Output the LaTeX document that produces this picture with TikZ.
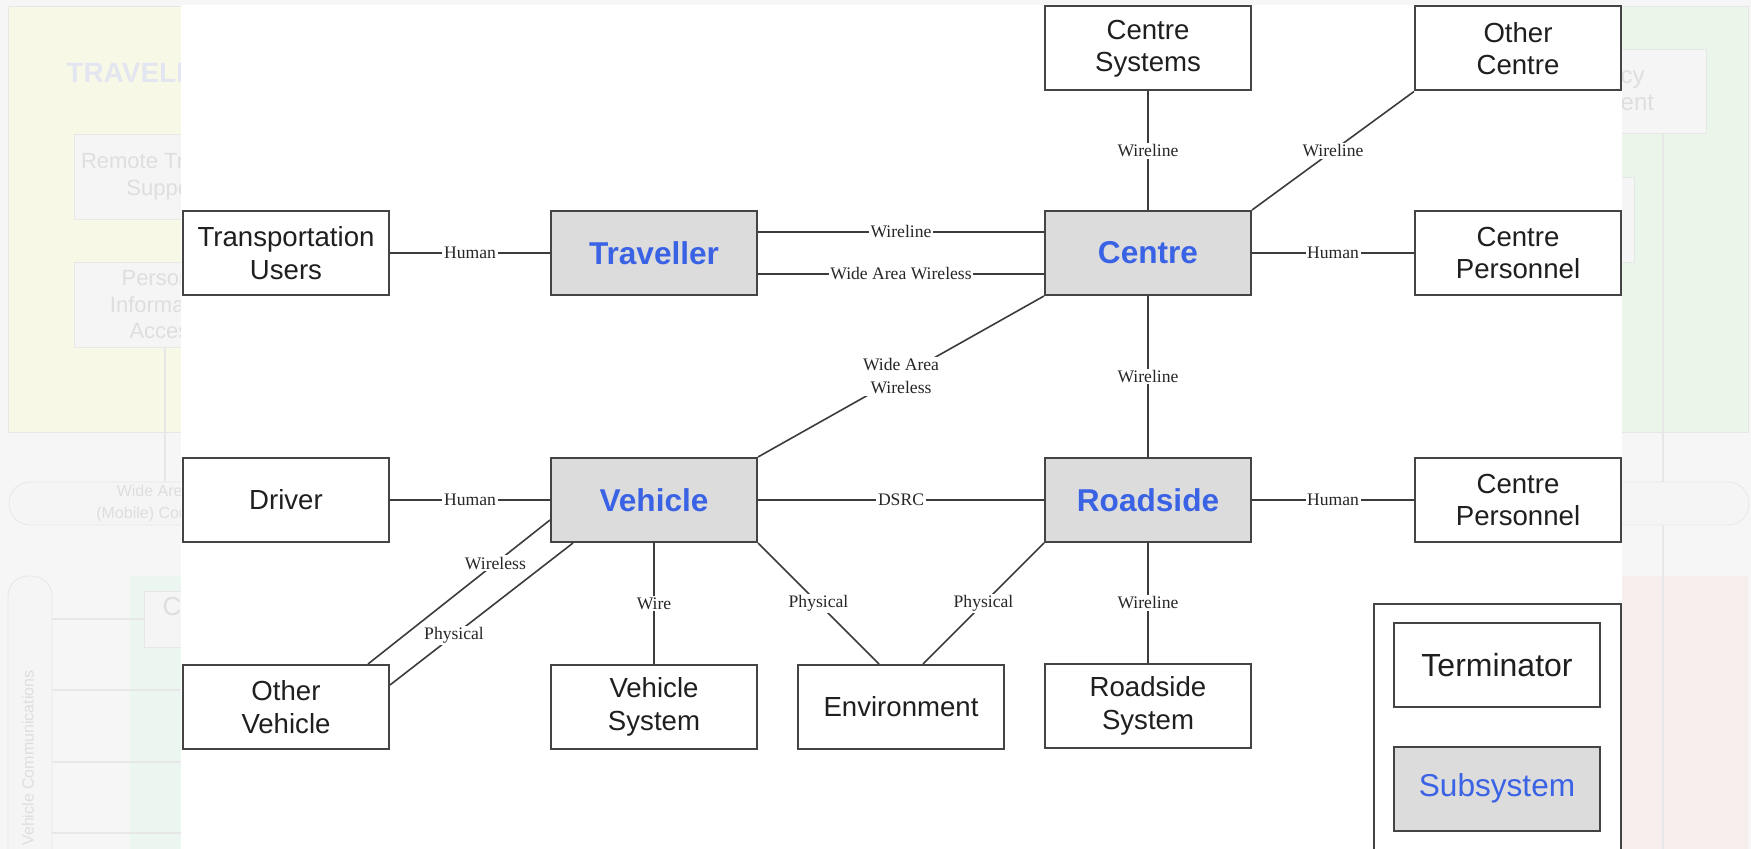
\documentclass[tikz,border=0pt]{standalone}
\usepackage{fontspec}
\setmainfont{Liberation Serif}
\newfontfamily\arial{Liberation Sans}

\definecolor{pagebg}{RGB}{246,246,246}
\definecolor{travyellow}{RGB}{248,248,231}
\definecolor{centgreen}{RGB}{234,246,234}
\definecolor{fieldpink}{RGB}{246,237,237}
\definecolor{vehmint}{RGB}{235,246,240}
\definecolor{ghostfill}{RGB}{245,245,245}
\definecolor{ghostline}{RGB}{231,231,231}
\definecolor{ghosttext}{RGB}{222,222,222}
\definecolor{ghosthead}{RGB}{227,230,240}
\definecolor{boxline}{RGB}{68,68,68}
\definecolor{linkgray}{RGB}{60,60,60}
\definecolor{subfill}{RGB}{220,220,220}
\definecolor{subblue}{RGB}{58,98,228}

\tikzset{
	ghostbox/.style={draw=ghostline, fill=ghostfill, text=ghosttext, align=center, inner sep=0pt},
	term/.style={draw=boxline, line width=1pt, fill=white, text=black!88, align=center, inner sep=0pt,
		minimum width=103pt, minimum height=42pt, font=\arial\fontsize{13.8}{16.2}\selectfont},
	subsys/.style={term, fill=subfill, text=subblue, font=\arial\bfseries\fontsize{15.8}{18}\selectfont},
	link/.style={draw=linkgray, line width=0.8pt},
	lbl/.style={fill=white, inner sep=0.8pt, text=black!85, font=\fontsize{8.8}{11.5}\selectfont}
}

\begin{document}
\begin{tikzpicture}[x=0.5pt, y=-0.5pt]
	% faded architecture behind the panel
	\fill[pagebg] (0,0) rectangle (1751,849);
	\useasboundingbox (0,0) rectangle (1751,849);
	\filldraw[fill=travyellow, draw=ghostline] (8,6) rectangle (600,432);
	\filldraw[fill=centgreen, draw=ghostline] (1300,6) rectangle (1748,432);
	\fill[vehmint] (130,576) rectangle (600,849);
	\fill[fieldpink] (1300,576) rectangle (1748,849);
	\node[anchor=base west, inner sep=0pt, text=ghosthead, font=\arial\bfseries\fontsize{14}{16}\selectfont] (travhead) at (66,83) {TRAVELLERS};
	\node[ghostbox, minimum width=91pt, minimum height=42.5pt, font=\arial\fontsize{11}{13.3}\selectfont] (rts) at (165,176.5) {Remote Traveller\\Support};
	\node[ghostbox, minimum width=91pt, minimum height=42.5pt, font=\arial\fontsize{11}{13.3}\selectfont] (pia) at (165,304.5) {Personal\\Information\\Access};
	\node[ghostbox, minimum width=122pt, minimum height=42pt, font=\arial\fontsize{12}{13.5}\selectfont] (em) at (1584,91) {Emergency\\Management};
	\node[ghostbox, minimum width=97pt, minimum height=42.5pt] (tm) at (1537,219.5) {};
	\draw[ghostline, line width=0.8pt] (pia.south) -- (165,482);
	\draw[ghostline, line width=0.8pt] (em.south -| 1663,0) -- (1663,849);
	\filldraw[fill=ghostfill, draw=ghostline, rounded corners=10.5pt] (9,482) rectangle (1749,525);
	\node[align=center, inner sep=0pt, text=ghosttext, font=\arial\fontsize{8}{11}\selectfont] (wawbar) at (187,503.5) {Wide Area Wireless\\(Mobile) Communications};
	\filldraw[fill=ghostfill, draw=ghostline, rounded corners=10pt] (8,880) rectangle (52,576);
	\node[rotate=90, inner sep=0pt, text=ghosttext, font=\arial\fontsize{8}{10}\selectfont] (vvbar) at (28,758) {Vehicle Communications};
	\node[ghostbox, minimum width=88pt, minimum height=28pt, font=\arial\fontsize{13}{13}\selectfont] (cv) at (232,619) {Commercial\\Vehicle};
	\draw[ghostline, line width=0.8pt] (52,619) -- (cv.west);
	\foreach \y in {690,762,833}
		\draw[ghostline, line width=0.8pt] (52,\y) -- (181,\y);
	\fill[white] (181,5) rectangle (1622,849);

	% terminators and subsystems
	\node[term] (tusers) at (286,253) {Transportation\\Users};
	\node[subsys] (trav) at (654,253) {Traveller};
	\node[subsys] (centre) at (1148,253) {Centre};
	\node[term] (cpers) at (1518,253) {Centre\\Personnel};
	\node[term] (csys) at (1148,48.5) {Centre\\Systems};
	\node[term] (ocentre) at (1518,48.5) {Other\\Centre};
	\node[term] (driver) at (286,500) {Driver};
	\node[subsys] (veh) at (654,500) {Vehicle};
	\node[subsys] (road) at (1148,500) {Roadside};
	\node[term] (rpers) at (1518,500) {Centre\\Personnel};
	\node[term] (ovehicle) at (286,707) {Other\\Vehicle};
	\node[term] (vsys) at (654,707) {Vehicle\\System};
	\node[term] (env) at (901,707) {Environment};
	\node[term] (rsys) at (1148,706) {Roadside\\System};

	% interconnects
	\draw[link] (tusers) -- node[lbl] {Human} (trav);
	\draw[link] ([yshift=10.5pt]trav.east) -- node[lbl] {Wireline} ([yshift=10.5pt]centre.west);
	\draw[link] ([yshift=-10.5pt]trav.east) -- node[lbl] {Wide Area Wireless} ([yshift=-10.5pt]centre.west);
	\draw[link] (centre) -- node[lbl] {Human} (cpers);
	\draw[link] (csys) -- node[lbl] {Wireline} (centre);
	\draw[link] (ocentre.south west) -- node[lbl] {Wireline} (centre.north east);
	\draw[link] (centre.south west) -- node[lbl, align=center] {Wide Area\\Wireless} (veh.north east);
	\draw[link] (centre) -- node[lbl] {Wireline} (road);
	\draw[link] (driver) -- node[lbl] {Human} (veh);
	\draw[link] (veh) -- node[lbl] {DSRC} (road);
	\draw[link] (road) -- node[lbl] {Human} (rpers);
	\draw[link] ([yshift=-10pt]veh.west) -- node[lbl, pos=0.3] {Wireless} ([xshift=41pt]ovehicle.north);
	\draw[link] ([xshift=-40.5pt]veh.south) -- node[lbl, pos=0.65] {Physical} ([yshift=11pt]ovehicle.east);
	\draw[link] (veh) -- node[lbl] {Wire} (vsys);
	\draw[link] (veh.south east) -- node[lbl] {Physical} ([xshift=-11pt]env.north);
	\draw[link] (road.south west) -- node[lbl] {Physical} ([xshift=11pt]env.north);
	\draw[link] (road) -- node[lbl] {Wireline} (rsys);

	% legend
	\draw[boxline, line width=0.8pt] (1374,849) |- (1621,604) -- (1621,849);
	\node[term, font=\arial\fontsize{16}{18}\selectfont] (lterm) at (1497,665) {Terminator};
	\node[subsys, font=\arial\fontsize{15.8}{18}\selectfont] (lsub) at (1497,788.5) {Subsystem};
\end{tikzpicture}
\end{document}
